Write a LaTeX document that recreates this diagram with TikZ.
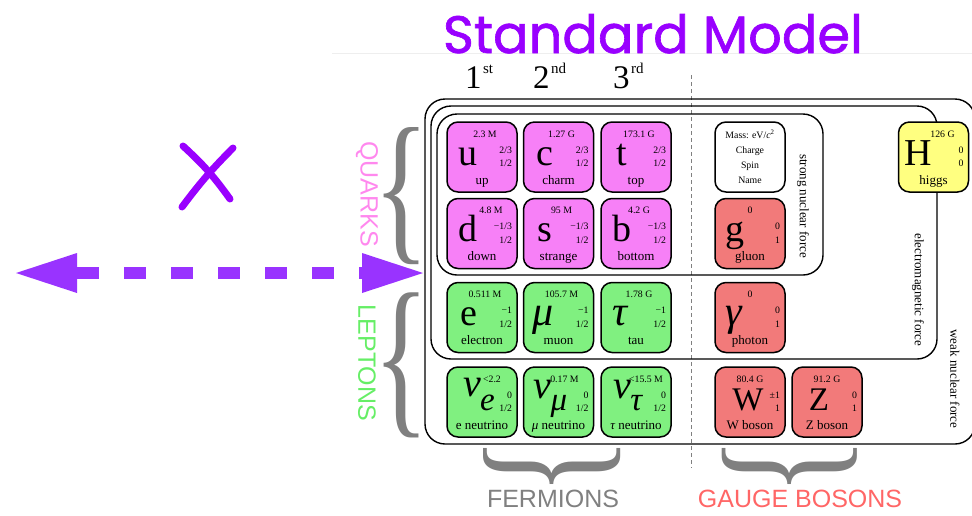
\documentclass[tikz,border=0pt]{standalone}
\usepackage{fontspec}
\usepackage{graphicx}
\setmainfont{Liberation Serif}
\newfontfamily\sansf{Liberation Sans}
\newfontfamily\titlef[FakeBold=1.2]{Poppins}
\usetikzlibrary{arrows.meta}

\definecolor{quarkfill}{RGB}{247,128,247}
\definecolor{leptonfill}{RGB}{128,240,128}
\definecolor{bosonfill}{RGB}{242,122,122}
\definecolor{higgsfill}{RGB}{255,255,128}
\definecolor{titlepurple}{RGB}{153,0,255}
\definecolor{arrowpurple}{RGB}{153,51,255}
\definecolor{quarkpink}{RGB}{255,136,238}
\definecolor{leptongreen}{RGB}{102,238,102}
\definecolor{bracegray}{RGB}{128,128,128}
\definecolor{gaugered}{RGB}{255,102,102}
\definecolor{faintline}{RGB}{238,238,238}

\tikzset{
  pbox/.style={draw, line width=1.5pt, rounded corners=11pt, minimum width=70pt, minimum height=70pt, inner sep=0pt},
  txt/.style={inner sep=0pt, outer sep=0pt},
  symb/.style={txt, font=\fontsize{38}{38}\selectfont},
  smallt/.style={txt, font=\fontsize{9.8}{9.8}\selectfont},
  namet/.style={txt, font=\fontsize{13}{13}\selectfont},
  framebox/.style={draw, line width=1.4pt, rounded corners=20pt},
  forcet/.style={txt, rotate=-90, font=\fontsize{13}{13}\selectfont},
  catlabel/.style={txt, font=\sansf\fontsize{25}{25}\selectfont},
  genlabel/.style={txt, anchor=base west, font=\fontsize{33}{33}\selectfont},
}

\def\massshift{3}
\newcommand{\particle}[9]{%
  \node[pbox, fill=#3] (#1) at (#2) {};
  \node[symb, anchor=base] (#1-sym) at ([shift={(#4,8)}]#1.center) {#5};
  \node[smallt, anchor=base] (#1-m) at ([shift={(\massshift,-20)}]#1.center) {#6};
  \node[smallt, anchor=base east] (#1-q) at ([shift={(30,-4)}]#1.center) {#7};
  \node[smallt, anchor=base east] (#1-s) at ([shift={(30,9.5)}]#1.center) {#8};
  \node[namet, anchor=base] (#1-n) at ([shift={(0,27)}]#1.center) {#9};
}
\newcommand{\bracenode}[5]{%
  \node[txt, text=bracegray, rotate=#3] (#1) at (#2) {\resizebox*{#4}{#5}{\{}};
}
\newcommand{\gen}[2]{#1\kern1.5pt\raisebox{15pt}{\fontsize{15}{15}\selectfont #2}}
\newcommand{\grk}[1]{{\itshape\fontsize{42}{42}\selectfont #1}}
\newcommand{\neut}[2]{{\itshape\raisebox{#2}{\fontsize{40}{40}\selectfont ν}\kern-1pt{\fontsize{33}{33}\selectfont #1}}}
\newcommand{\midsym}[1]{{\fontsize{33}{33}\selectfont #1}}

\begin{document}
\begin{tikzpicture}[x=1pt, y=-1pt]
\useasboundingbox (0,0) rectangle (972,515);

% faint rule and title
\coordinate (ruleL) at (332,53);
\coordinate (ruleR) at (972,53);
\draw[faintline, line width=1pt] (ruleL) -- (ruleR);
\node[txt, text=titlepurple, anchor=base west] (title) at (443,53)
  {\resizebox{420pt}{!}{\titlef\fontsize{46}{46}\selectfont Standard Model}};

% generation labels
\node[genlabel] (g1) at (465,88) {\gen{1}{st}};
\node[genlabel] (g2) at (533,88) {\gen{2}{nd}};
\node[genlabel] (g3) at (613,88) {\gen{3}{rd}};

% dashed divider
\coordinate (divT) at (691,75);
\coordinate (divB) at (691,468);
\draw[bracegray, line width=1pt, dash pattern=on 4pt off 3pt] (divT) -- (divB);

% force frames
\draw[framebox] (425,99) rectangle (975,444);
\draw[framebox] (431,106) rectangle (937,359);
\draw[framebox] (437,114) rectangle (823,275);

\node[forcet] (fstrong) at (803,206) {strong nuclear force};
\node[forcet] (fem) at (918,290) {electromagnetic force};
\node[forcet] (fweak) at (955,379) {weak nuclear force};

% quarks
\particle{up}{482,157}{quarkfill}{-14}{u}{2.3 M}{2/3}{1/2}{up}
\particle{charm}{558.5,157}{quarkfill}{-14}{c}{1.27 G}{2/3}{1/2}{charm}
\particle{top}{636,157}{quarkfill}{-14}{t}{173.1 G}{2/3}{1/2}{top}
\def\massshift{9}
\particle{down}{482,233.5}{quarkfill}{-14}{d}{4.8 M}{−1/3}{1/2}{down}
\def\massshift{3}
\particle{strange}{558.5,233.5}{quarkfill}{-14}{s}{95 M}{−1/3}{1/2}{strange}
\particle{bottom}{636,233.5}{quarkfill}{-14}{b}{4.2 G}{−1/3}{1/2}{bottom}

% leptons
\particle{electron}{482,317.5}{leptonfill}{-13}{e}{0.511 M}{−1}{1/2}{electron}
\particle{muon}{558.5,317.5}{leptonfill}{-15}{\grk{μ}}{105.7 M}{−1}{1/2}{muon}
\particle{tau}{636,317.5}{leptonfill}{-16}{\grk{τ}}{1.78 G}{−1}{1/2}{tau}
\def\massshift{10}
\particle{nue}{482,402}{leptonfill}{-3}{\neut{e}{14pt}}{<2.2}{0}{1/2}{e neutrino}
\def\massshift{6}
\particle{numu}{558.5,402}{leptonfill}{-8}{\neut{μ}{12pt}}{0.17 M}{0}{1/2}{{\itshape μ} neutrino}
\def\massshift{10}
\particle{nutau}{636,402}{leptonfill}{-8}{\neut{τ}{12pt}}{<15.5 M}{0}{1/2}{{\itshape τ} neutrino}

% gauge bosons
\def\massshift{0}
\particle{gluon}{750,233.5}{bosonfill}{-15}{g}{0}{0}{1}{gluon}
\particle{photon}{750,317.5}{bosonfill}{-16}{\grk{γ}}{0}{0}{1}{photon}
\particle{wboson}{750,402}{bosonfill}{-2}{\midsym{W}}{80.4 G}{±1}{1}{W boson}
\particle{zboson}{827,402}{bosonfill}{-8}{\midsym{Z}}{91.2 G}{0}{1}{Z boson}
\def\massshift{9}
\particle{higgs}{933.5,157}{higgsfill}{-15}{H}{126 G}{0}{0}{higgs}

% legend box
\node[pbox, fill=white] (legend) at (750,157) {};
\node[smallt, anchor=base] (legm) at ([shift={(0,-19)}]legend.center) {Mass: eV/\textit{c}\textsuperscript{2}};
\node[smallt, anchor=base] (legq) at ([shift={(0,-4)}]legend.center) {Charge};
\node[smallt, anchor=base] (legs) at ([shift={(0,11)}]legend.center) {Spin};
\node[smallt, anchor=base] (legn) at ([shift={(0,26)}]legend.center) {Name};

% braces and category labels
\bracenode{bq}{402,196}{0}{56pt}{137pt}
\bracenode{bl}{402,365}{0}{56pt}{145pt}
\bracenode{bf}{552,466}{90}{58pt}{137pt}
\bracenode{bg}{790,466}{90}{58pt}{135pt}

\node[catlabel, text=quarkpink, rotate=-90] (quarks) at (367,194) {QUARKS};
\node[catlabel, text=leptongreen, rotate=-90] (leptons) at (367,363) {LEPTONS};
\node[catlabel, text=bracegray] (fermions) at (553,499) {FERMIONS};
\node[catlabel, text=gaugered] (gauge) at (800,499) {GAUGE BOSONS};

% purple cross
\coordinate (x1a) at (183,146);
\coordinate (x1b) at (230,199);
\coordinate (x2a) at (233,148);
\coordinate (x2b) at (182,207);
\draw[titlepurple, line width=7pt, line cap=round] (x1a) to[bend left=6] (x1b);
\draw[titlepurple, line width=7pt, line cap=round] (x2a) to[bend right=4] (x2b);

% dashed double arrow
\coordinate (aL) at (16,273);
\coordinate (aR) at (423,273);
\draw[arrowpurple, line width=12pt, dash pattern=on 22pt off 25pt,
  {Triangle[length=61pt,width=40pt,line width=0pt]}-{Triangle[length=61pt,width=40pt,line width=0pt]}] (aL) -- (aR);
\end{tikzpicture}
\end{document}
